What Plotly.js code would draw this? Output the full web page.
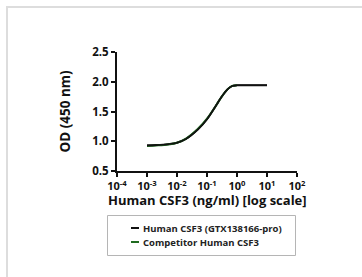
<!DOCTYPE html>
<html>
<head>
<meta charset="utf-8">
<script src="https://cdn.plot.ly/plotly-3.0.1.min.js"></script>
<style>html,body{margin:0;padding:0;background:#fff;}#chart{width:362px;height:277px;}</style>
</head>
<body>
<div id="chart"></div>
<script>
// Data
const concentration = [0.001, 0.002, 0.005, 0.01, 0.02, 0.05, 0.1, 0.2, 0.3, 0.5, 0.7, 1, 2, 5, 10];
const odProduct     = [0.93, 0.935, 0.95, 0.975, 1.04, 1.2, 1.37, 1.6, 1.74, 1.88, 1.93, 1.94, 1.94, 1.94, 1.94];
const concCompetitor = [0.001, 0.002, 0.005, 0.01, 0.02, 0.05, 0.1, 0.2, 0.3, 0.5, 0.7, 1];
const odCompetitor   = [0.92, 0.928, 0.945, 0.975, 1.045, 1.21, 1.38, 1.6, 1.74, 1.88, 1.93, 1.94];
const seriesNames = ["Human CSF3 (GTX138166-pro)", "Competitor Human CSF3"];
const seriesColors = ["#111111", "#1f6b1f"];
const xTickVals = [0.0001, 0.001, 0.01, 0.1, 1, 10, 100];
const xTickText = ["10<sup>-4</sup>", "10<sup>-3</sup>", "10<sup>-2</sup>", "10<sup>-1</sup>", "10<sup>0</sup>", "10<sup>1</sup>", "10<sup>2</sup>"];
const yTickVals = [0.5, 1.0, 1.5, 2.0, 2.5];
const yTickText = ["0.5", "1.0", "1.5", "2.0", "2.5"];
const xTitle = "Human CSF3 (ng/ml) [log scale]";
const yTitle = "OD (450 nm)";

const W = 362, H = 277;
const L = 117, R = 65, T = 52, B = 106;
const pw = W - L - R, ph = H - T - B;
function px(x) { return (x - L) / pw; }
function py(y) { return (H - B - y) / ph; }

const FONT = "Open Sans, Liberation Sans, sans-serif";

const traces = [
  {x: concentration, y: odProduct, mode: "lines", name: seriesNames[0],
   line: {color: seriesColors[0], width: 2, shape: "spline"}},
  {x: concCompetitor, y: odCompetitor, mode: "lines", name: seriesNames[1],
   line: {color: seriesColors[1], width: 2, shape: "spline"}},
  {x: concentration, y: odProduct, mode: "lines", showlegend: false, hoverinfo: "skip",
   line: {color: seriesColors[0], width: 1.6, shape: "spline"}}
];

const shapes = [
  {type: "rect", xref: "paper", yref: "paper",
   x0: px(7), x1: px(380), y0: py(7), y1: py(300),
   line: {color: "#dddddd", width: 2}, layer: "below"},
  {type: "rect", xref: "paper", yref: "paper",
   x0: px(107.5), x1: px(295.5), y0: py(215.5), y1: py(255.5),
   line: {color: "#b5b5b5", width: 1}, fillcolor: "rgba(0,0,0,0)"}
];
const annotations = [
  {text: xTitle, xref: "paper", yref: "paper", x: px(207), y: py(200),
   xanchor: "center", yanchor: "middle", showarrow: false,
   font: {family: FONT, size: 13, weight: "bold", color: "#111"}}
];
const legendY = [228, 242];
seriesNames.forEach(function (name, i) {
  shapes.push({type: "line", xref: "paper", yref: "paper",
    x0: px(131), x1: px(139), y0: py(legendY[i]), y1: py(legendY[i]),
    line: {color: seriesColors[i], width: 2}});
  annotations.push({text: name, xref: "paper", yref: "paper",
    x: px(141), y: py(legendY[i]), xanchor: "left", yanchor: "middle",
    showarrow: false,
    font: {family: FONT, size: 9.5, weight: "bold", color: "#222"}});
});

const layout = {
  width: W, height: H,
  margin: {l: L, r: R, t: T, b: B},
  paper_bgcolor: "#ffffff", plot_bgcolor: "#ffffff",
  font: {family: FONT, color: "#111", size: 11},
  showlegend: false,
  xaxis: {
    type: "log", range: [-4, 2],
    tickvals: xTickVals, ticktext: xTickText,
    showline: true, linecolor: "#111", linewidth: 2,
    ticks: "outside", ticklen: 4, tickwidth: 2, tickcolor: "#111",
    showgrid: false, zeroline: false,
    tickfont: {family: FONT, size: 11, weight: "bold", color: "#111"}
  },
  yaxis: {
    range: [0.5, 2.5],
    tickvals: yTickVals, ticktext: yTickText,
    showline: true, linecolor: "#111", linewidth: 2,
    ticks: "outside", ticklen: 4, tickwidth: 2, tickcolor: "#111",
    showgrid: false, zeroline: false,
    tickfont: {family: FONT, size: 11.5, weight: "bold", color: "#111"},
    title: {text: yTitle, standoff: 19,
            font: {family: FONT, size: 13.5, weight: "bold", color: "#111"}}
  },
  shapes: shapes,
  annotations: annotations
};

Plotly.newPlot("chart", traces, layout, {staticPlot: true, displayModeBar: false});
</script>
</body>
</html>
